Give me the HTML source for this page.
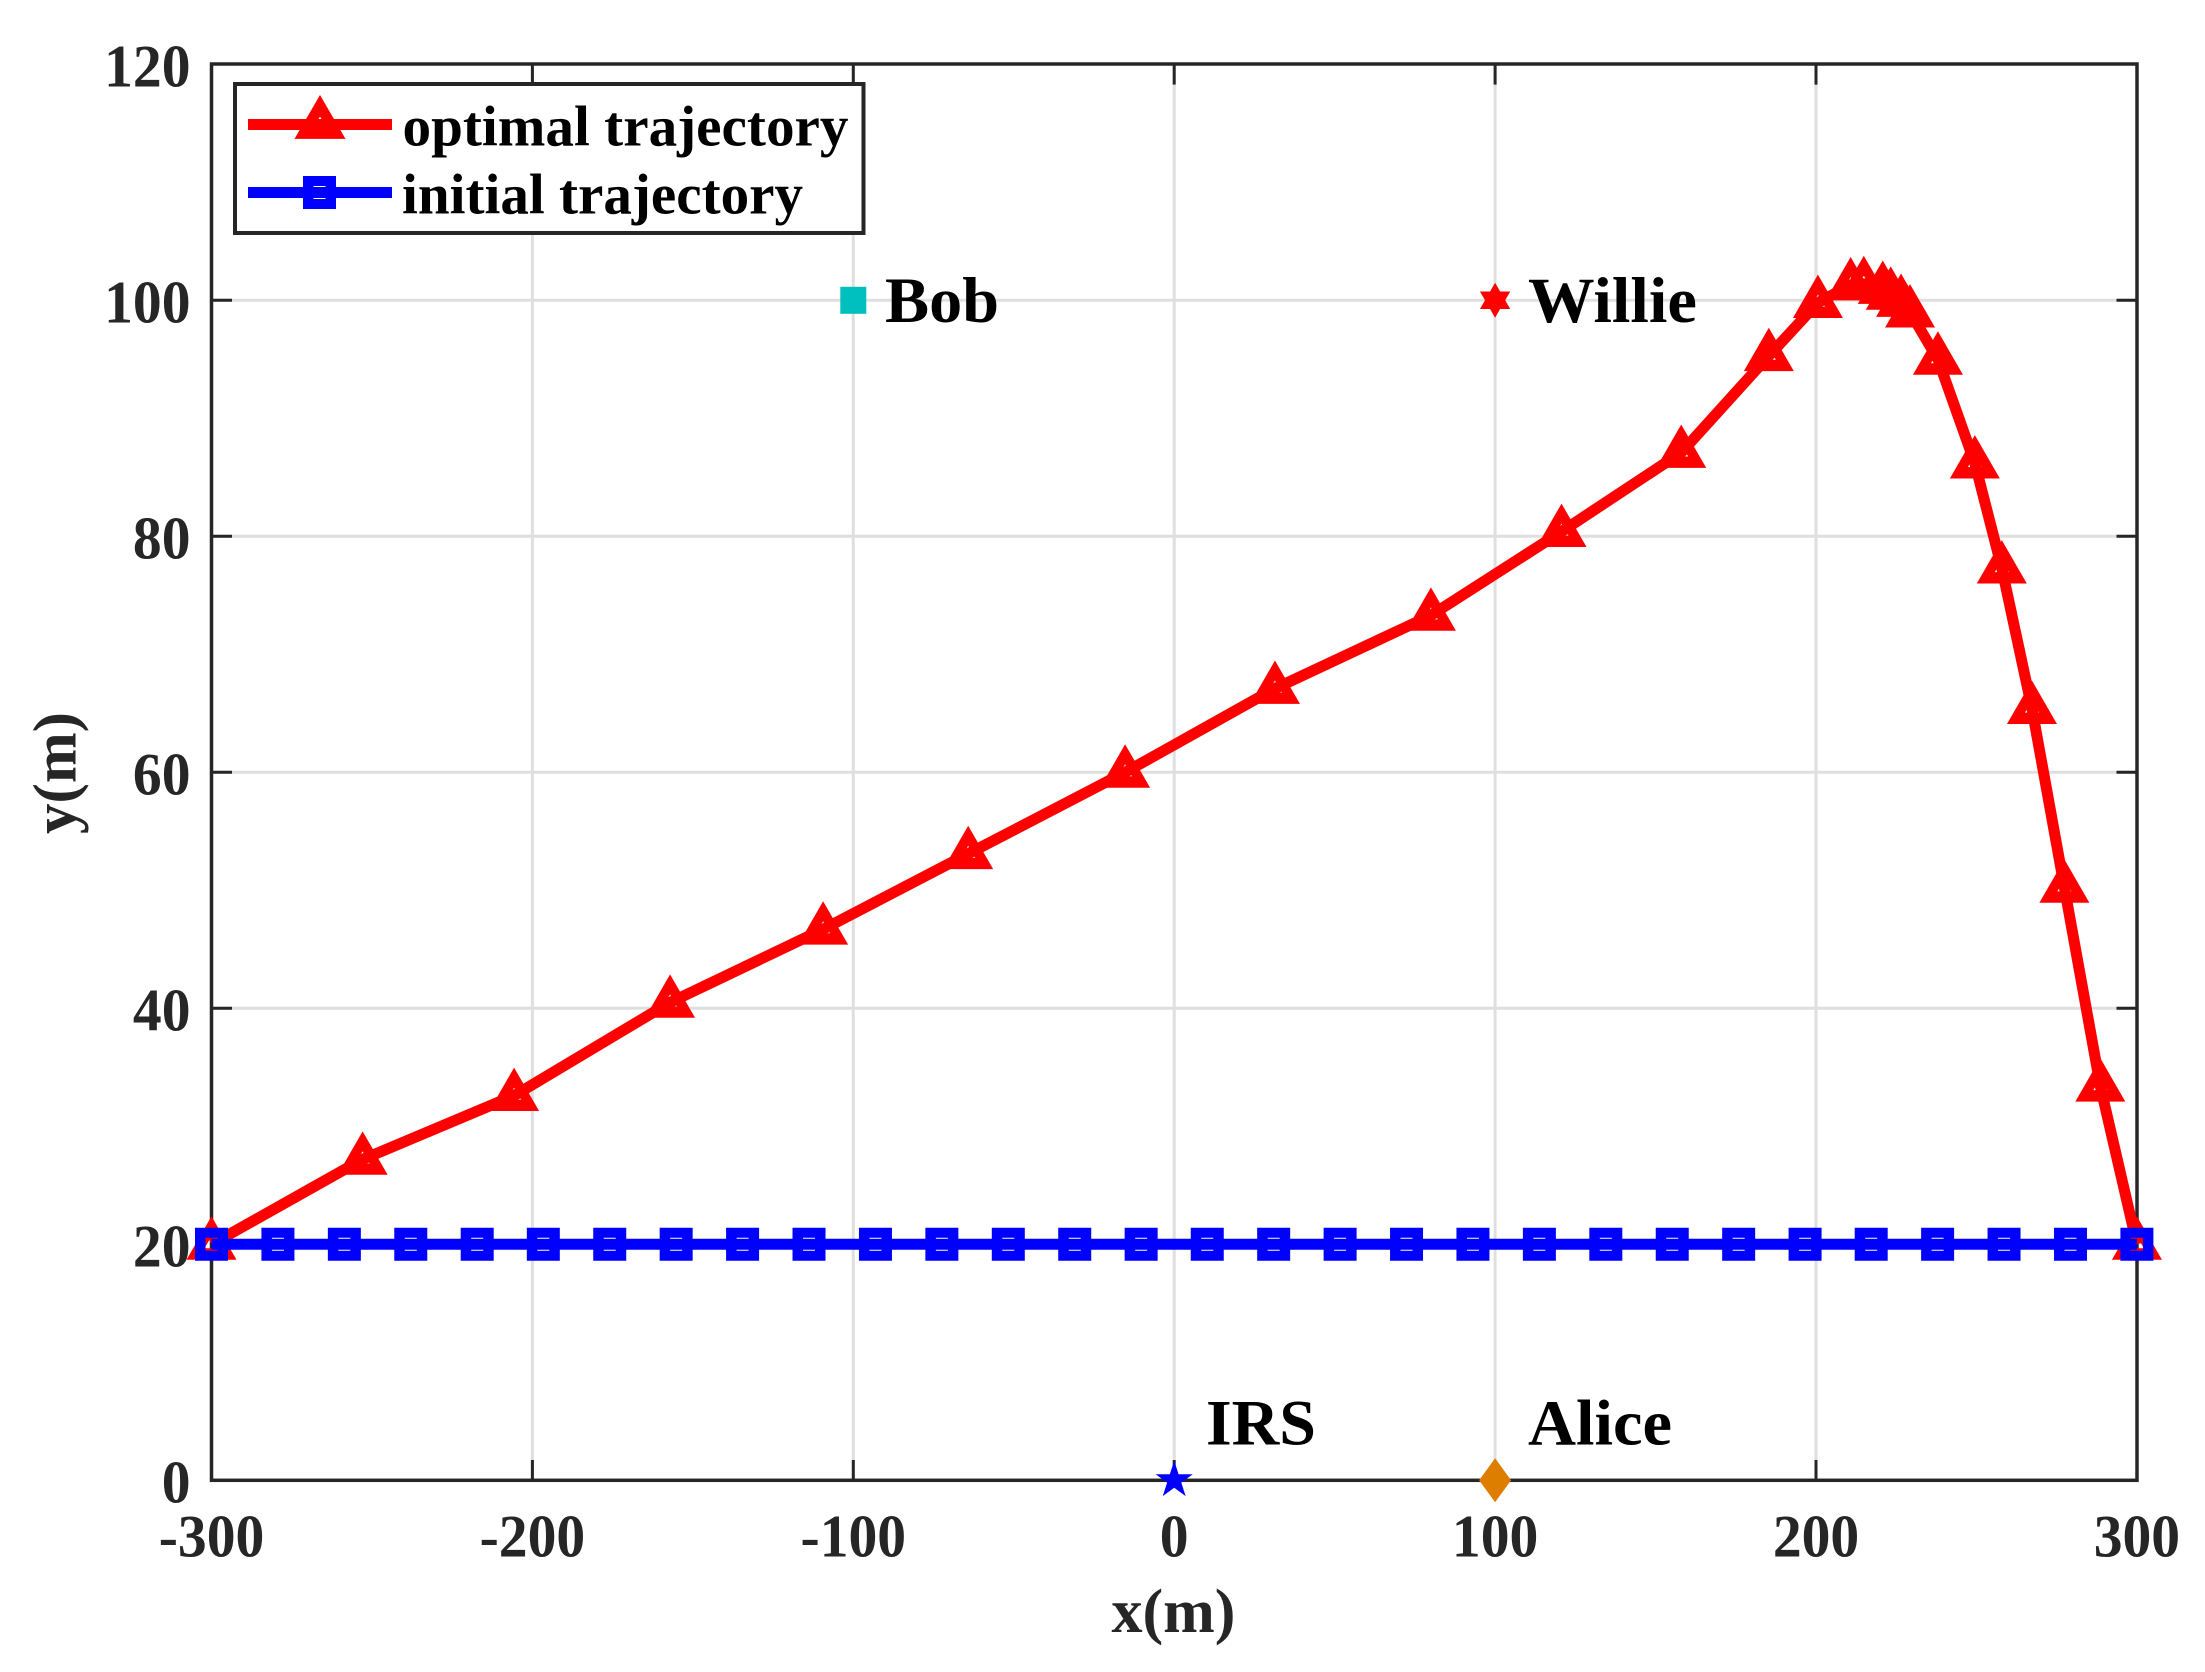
<!DOCTYPE html>
<html lang="en">
<head>
<meta charset="utf-8">
<title>Optimal and initial trajectory</title>
<style>
html,body{margin:0;padding:0;background:#fff;width:2205px;height:1672px;overflow:hidden}
svg{display:block}
text{font-family:"Liberation Serif",serif;font-weight:bold}
</style>
</head>
<body>
<svg id="chart" xmlns="http://www.w3.org/2000/svg" width="2205" height="1672" viewBox="0 0 2205 1672">
  <rect x="0" y="0" width="2205" height="1672" fill="#fff"/>
  <g id="grid"></g>
  <rect x="211.5" y="64" width="1925.5" height="1416.3" fill="none" stroke="#262626" stroke-width="3.5"/>
  <g id="ticks"></g>
  <g id="ticklabels"></g>
  <text x="1173.5" y="1632" text-anchor="middle" font-size="62" fill="#262626">x(m)</text>
  <text transform="translate(75.7,773) rotate(-90)" text-anchor="middle" font-size="61" fill="#262626">y(m)</text>
  <g id="series"></g>
  <g id="nodes"></g>
  <text x="885" y="322" font-size="65" fill="#000" textLength="114" lengthAdjust="spacingAndGlyphs">Bob</text>
  <text x="1528" y="322" font-size="65" fill="#000" textLength="169" lengthAdjust="spacingAndGlyphs">Willie</text>
  <text x="1206" y="1444.5" font-size="65" fill="#000" textLength="110" lengthAdjust="spacingAndGlyphs">IRS</text>
  <text x="1528" y="1444.5" font-size="65" fill="#000" textLength="144" lengthAdjust="spacingAndGlyphs">Alice</text>
  <g>
    <rect x="235" y="84" width="628.5" height="149" fill="#fff" stroke="#262626" stroke-width="4"/>
    <g>
      <path fill="#ff0000" fill-rule="evenodd" d="M320 95L345.5 138.9L294.5 138.9ZM320 116.5L313 128.5L327 128.5Z"/>
      <line x1="248" y1="124.5" x2="392" y2="124.5" stroke="#ff0000" stroke-width="11"/>
      <text x="402.5" y="145.7" font-size="57" fill="#000" textLength="446" lengthAdjust="spacingAndGlyphs">optimal trajectory</text>
    </g>
    <g>
      <path fill="#0000ff" fill-rule="evenodd" d="M303 176H336V209H303ZM313.5 186V199H325.5V186Z"/>
      <line x1="248" y1="192.5" x2="392" y2="192.5" stroke="#0000ff" stroke-width="11"/>
      <text x="402" y="213.3" font-size="57" fill="#000" textLength="401" lengthAdjust="spacingAndGlyphs">initial trajectory</text>
    </g>
  </g>
</svg>
<script>
var xTickValues = [-300, -200, -100, 0, 100, 200, 300];
var yTickValues = [0, 20, 40, 60, 80, 100, 120];
var xTickLabels = ['-300', '-200', '-100', '0', '100', '200', '300'];
var yTickLabels = ['0', '20', '40', '60', '80', '100', '120'];

var optimalX = [-300, -252.9, -205.7, -157.1, -109.4, -64.2, -15.3, 31.4, 80, 120.7, 158, 185.3, 200.6, 210.8, 214.9, 220.8, 223.3, 226.5, 229.3, 238, 249.5, 257.9, 267.3, 277.4, 288.6, 300];
var optimalY = [20, 27.2, 32.6, 40.5, 46.7, 53.1, 60, 67.1, 73.3, 80.4, 87.1, 95.3, 99.8, 101.3, 101.4, 101, 100.5, 99.9, 99, 95, 86.2, 77.3, 65.4, 50.25, 33.4, 20];

var initialX = [-300, -279.3, -258.6, -237.9, -217.2, -196.6, -175.9, -155.2, -134.5, -113.8, -93.1, -72.4, -51.7, -31, -10.3, 10.3, 31, 51.7, 72.4, 93.1, 113.8, 134.5, 155.2, 175.9, 196.6, 217.2, 237.9, 258.6, 279.3, 300];
var initialY = [20, 20, 20, 20, 20, 20, 20, 20, 20, 20, 20, 20, 20, 20, 20, 20, 20, 20, 20, 20, 20, 20, 20, 20, 20, 20, 20, 20, 20, 20];

var bobPoint = [-100, 100];
var williePoint = [100, 100];
var irsPoint = [0, 0];
var alicePoint = [100, 0];

var NS = 'http://www.w3.org/2000/svg';
function sx(v) { return 211.5 + (v + 300) * 3.209; }
function sy(v) { return 1480.3 - v * 11.8; }
function make(tag, parent, attrs) {
  var el = document.createElementNS(NS, tag);
  for (var k in attrs) { el.setAttribute(k, attrs[k]); }
  parent.appendChild(el);
  return el;
}
function starPath(cx, cy, R, r, n) {
  var d = '';
  for (var i = 0; i < n * 2; i++) {
    var a = -Math.PI / 2 + i * Math.PI / n;
    var rad = i % 2 ? r : R;
    d += (i ? 'L' : 'M') + (cx + rad * Math.cos(a)).toFixed(2) + ' ' + (cy + rad * Math.sin(a)).toFixed(2);
  }
  return d + 'Z';
}

var gridG = document.getElementById('grid');
var ticksG = document.getElementById('ticks');
var labelsG = document.getElementById('ticklabels');
var seriesG = document.getElementById('series');
var nodesG = document.getElementById('nodes');

xTickValues.forEach(function (v, i) {
  var x = sx(v);
  if (i > 0 && i < xTickValues.length - 1) {
    var g = make('line', gridG, { x1: x, y1: 64.3, x2: x, y2: 1480.3, stroke: '#dfdfdf', 'stroke-width': 3 });
    
    
    var t1 = make('line', ticksG, { x1: x, y1: 1480.3, x2: x, y2: 1460, stroke: '#262626', 'stroke-width': 3 });
    
    
    var t2 = make('line', ticksG, { x1: x, y1: 64.3, x2: x, y2: 84.6, stroke: '#262626', 'stroke-width': 3 });
    
    
  }
  var lab = make('text', labelsG, { transform: 'translate(' + x + ',1556.5) scale(0.96,1)', 'text-anchor': 'middle', 'font-size': 60, fill: '#262626' });
  
  
  lab.textContent = xTickLabels[i];
});

yTickValues.forEach(function (v, i) {
  var y = sy(v);
  if (i > 0 && i < yTickValues.length - 1) {
    var g = make('line', gridG, { x1: 211.5, y1: y, x2: 2137, y2: y, stroke: '#dfdfdf', 'stroke-width': 3 });
    
    
    var t1 = make('line', ticksG, { x1: 211.5, y1: y, x2: 232, y2: y, stroke: '#262626', 'stroke-width': 3 });
    
    
    var t2 = make('line', ticksG, { x1: 2137, y1: y, x2: 2116.5, y2: y, stroke: '#262626', 'stroke-width': 3 });
    
    
  }
  var lab = make('text', labelsG, { transform: 'translate(190.5,' + (y + 22) + ') scale(0.96,1)', 'text-anchor': 'end', 'font-size': 60, fill: '#262626' });
  
  
  lab.textContent = yTickLabels[i];
});

optimalX.forEach(function (v, i) {
  var x = sx(v), y = sy(optimalY[i]);
  var d = 'M' + x + ' ' + (y - 28) + 'L' + (x + 25) + ' ' + (y + 15.4) + 'L' + (x - 25) + ' ' + (y + 15.4) + 'Z' +
          'M' + x + ' ' + (y - 8) + 'L' + (x - 7) + ' ' + (y + 4) + 'L' + (x + 7) + ' ' + (y + 4) + 'Z';
  var m = make('path', seriesG, { d: d, fill: '#ff0000', 'fill-rule': 'evenodd' });
  
  
});
var optimalLine = make('polyline', seriesG, {
  points: optimalX.map(function (v, i) { return sx(v).toFixed(2) + ',' + sy(optimalY[i]).toFixed(2); }).join(' '),
  fill: 'none', stroke: '#ff0000', 'stroke-width': 11, 'stroke-linejoin': 'round'
});



initialX.forEach(function (v, i) {
  var x = sx(v), y = sy(initialY[i]);
  var d = 'M' + (x - 16.5) + ' ' + (y - 16.5) + 'H' + (x + 16.5) + 'V' + (y + 16.5) + 'H' + (x - 16.5) + 'Z' +
          'M' + (x - 6) + ' ' + (y - 6.5) + 'V' + (y + 6.5) + 'H' + (x + 6) + 'V' + (y - 6.5) + 'Z';
  var m = make('path', seriesG, { d: d, fill: '#0000ff', 'fill-rule': 'evenodd' });
  
  
});
var initialLine = make('polyline', seriesG, {
  points: initialX.map(function (v, i) { return sx(v).toFixed(2) + ',' + sy(initialY[i]).toFixed(2); }).join(' '),
  fill: 'none', stroke: '#0000ff', 'stroke-width': 11
});



var bobMark = make('rect', nodesG, { x: sx(bobPoint[0]) - 13, y: sy(bobPoint[1]) - 13.5, width: 26, height: 27, fill: '#00bfbf' });



var willieMark = make('path', nodesG, { d: starPath(sx(williePoint[0]), sy(williePoint[1]), 17.5, 10.1, 6), fill: '#ff0000' });



var irsMark = make('path', nodesG, { d: starPath(sx(irsPoint[0]), sy(irsPoint[1]), 19.5, 7.45, 5), fill: '#0000ff' });



var ax = sx(alicePoint[0]), ay = sy(alicePoint[1]);
var aliceMark = make('path', nodesG, { d: 'M' + ax + ' ' + (ay - 22) + 'L' + (ax + 16) + ' ' + ay + 'L' + ax + ' ' + (ay + 22) + 'L' + (ax - 16) + ' ' + ay + 'Z', fill: '#dd7e00' });


</script>
</body>
</html>
